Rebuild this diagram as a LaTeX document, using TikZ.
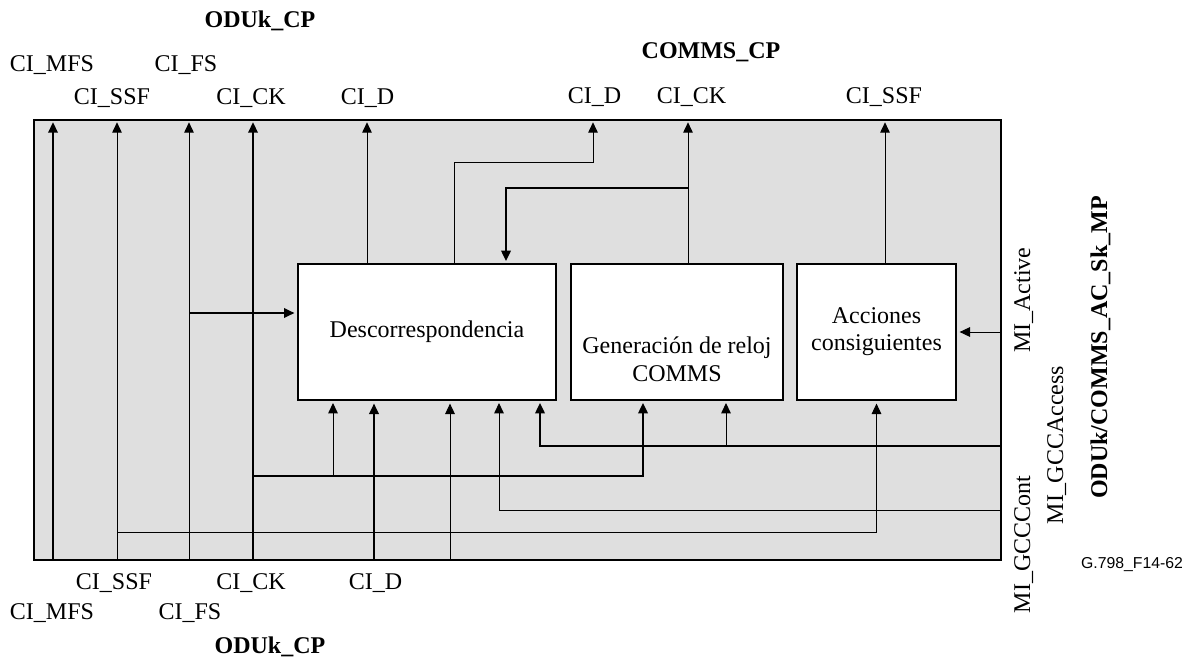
\documentclass[tikz,border=0pt]{standalone}
\usepackage{fontspec}
\setmainfont{Liberation Serif}
\newfontfamily\figidfont{Liberation Sans}
\usetikzlibrary{arrows.meta}
\definecolor{ink}{HTML}{000000}
\definecolor{panel}{HTML}{DFDFDF}
\tikzset{
  lbl/.style={font=\fontsize{12}{14}\selectfont, text=ink, inner sep=0pt},
  hdr/.style={lbl, font=\fontsize{12}{14}\selectfont\bfseries},
}

\begin{document}
\begin{tikzpicture}[x=0.5pt, y=-0.5pt,
  fn/.style={draw=ink, fill=white, line width=0.6pt, minimum height=68pt, align=center, inner sep=0pt, font=\fontsize{12}{13.5}\selectfont},
  sig/.style={line width=0.5pt, draw=ink},
  bus/.style={line width=0.9pt, draw=ink},
  arr/.style={-{Triangle[length=5.2pt, width=4.8pt]}, shorten >=1.5pt}]
\useasboundingbox (0,0) rectangle (1194,664);
\node[draw=ink, fill=panel, line width=0.7pt, minimum width=483.5pt, minimum height=220pt, inner sep=0pt] (blk) at (517.5,340) {};
\node[fn, minimum width=129pt] (desc) at (427,332) {Descorrespondencia};
\node[fn, minimum width=106pt] (gen) at (677,332) {};
\node[lbl, align=center] (gentxt) at (677,359) {Generación de reloj\\COMMS};
\node[fn, minimum width=79.5pt] (acc) at (876.5,332) {Acciones\\consiguientes};
\coordinate (mfs) at (53,560);
\coordinate (ssf) at (117,560);
\coordinate (fs) at (189,560);
\coordinate (ck) at (253,560);
\coordinate (d) at (374,560);
\coordinate (spare) at (450,560);
\coordinate (act) at (1001,332);
\coordinate (acs) at (1001,446);
\coordinate (cont) at (1001,510);
\coordinate (fsrail) at (189,313);
\coordinate (ckrail) at (253,476);
\coordinate (ssfrail) at (117,532);
\coordinate (dck) at (333,400);
\coordinate (dcont) at (499,400);
\coordinate (dacs) at (540,400);
\coordinate (gck) at (643,400);
\coordinate (gacs) at (726,400);
\coordinate (dout) at (367,264);
\coordinate (dcd) at (454,264);
\coordinate (dcin) at (506,264);
\coordinate (gout) at (688,264);
\coordinate (aout) at (885,264);
\coordinate (cdturn) at (593,162);
\coordinate (ckturn) at (688,188);
\draw[bus, arr] (mfs) -- (mfs|-blk.north);
\draw[sig, arr] (ssf) -- (ssf|-blk.north);
\draw[sig, arr] (fs) -- (fs|-blk.north);
\draw[bus, arr] (ck) -- (ck|-blk.north);
\draw[bus, arr] (d) -- (d|-desc.south);
\draw[sig, arr] (spare) -- (spare|-desc.south);
\draw[bus, arr] (fsrail) -- (fsrail-|desc.west);
\draw[bus, arr] (ckrail) -| (gck);
\draw[sig, arr] (dck|-ckrail) -- (dck);
\draw[sig, arr] (ssfrail) -| (acc.south);
\draw[sig, arr] (cont) -| (dcont);
\draw[bus, arr] (acs) -| (dacs);
\draw[sig, arr] (gacs|-acs) -- (gacs);
\draw[sig, arr] (act) -- (acc.east);
\draw[sig, arr] (dout) -- (dout|-blk.north);
\draw[sig, arr] (dcd) |- (cdturn) -- (cdturn|-blk.north);
\draw[sig, arr] (gout) -- (gout|-blk.north);
\draw[bus, arr] (ckturn) -| (dcin);
\draw[sig, arr] (aout) -- (aout|-blk.north);
\node[hdr, anchor=base] (odutop) at (260,27) {ODUk\_CP};
\node[lbl, anchor=base] (mfstop) at (52,71) {CI\_MFS};
\node[lbl, anchor=base] (fstop) at (186,71) {CI\_FS};
\node[lbl, anchor=base] (ssftop) at (112,104) {CI\_SSF};
\node[lbl, anchor=base] (cktop) at (251,104) {CI\_CK};
\node[lbl, anchor=base] (dtop) at (367.5,104) {CI\_D};
\node[hdr, anchor=base] (commstop) at (711,58) {COMMS\_CP};
\node[lbl, anchor=base] (cdtop) at (594.5,103) {CI\_D};
\node[lbl, anchor=base] (cctop) at (691.5,103) {CI\_CK};
\node[lbl, anchor=base] (cstop) at (884,103) {CI\_SSF};
\node[lbl, anchor=base] (ssfbot) at (114,589) {CI\_SSF};
\node[lbl, anchor=base] (ckbot) at (251,589) {CI\_CK};
\node[lbl, anchor=base] (dbot) at (375.5,589) {CI\_D};
\node[lbl, anchor=base] (mfsbot) at (52,619) {CI\_MFS};
\node[lbl, anchor=base] (fsbot) at (190,619) {CI\_FS};
\node[hdr, anchor=base] (odubot) at (270,653) {ODUk\_CP};
\node[lbl, rotate=90, anchor=base] (actlbl) at (1030,300) {MI\_Active};
\node[lbl, rotate=90, anchor=base] (acslbl) at (1063,445) {MI\_GCCAccess};
\node[lbl, rotate=90, anchor=base] (contlbl) at (1030,544.5) {MI\_GCCCont};
\node[hdr, rotate=90, anchor=base] (mplbl) at (1107,347.5) {ODUk/COMMS\_AC\_Sk\_MP};
\node[inner sep=0pt, font={\fontsize{7.9}{9}\selectfont\figidfont}] (figid) at (1132,565) {G.798\_F14-62};
\end{tikzpicture}
\end{document}
